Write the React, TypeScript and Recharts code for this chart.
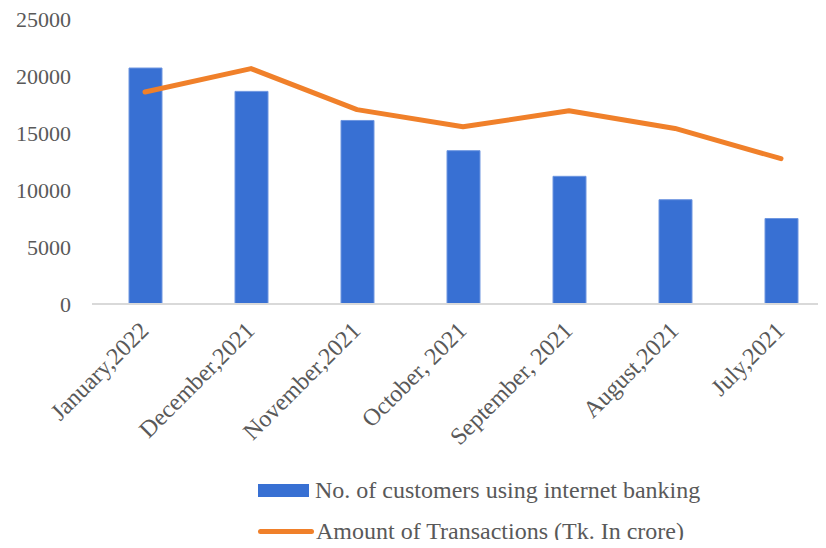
import { ComposedChart, Bar, Line, XAxis, YAxis, Legend } from "recharts";

const months = [
  "January,2022",
  "December,2021",
  "November,2021",
  "October, 2021",
  "September, 2021",
  "August,2021",
  "July,2021",
];
const customers = [20700, 18650, 16100, 13450, 11200, 9150, 7500];
const transactions = [18600, 20650, 17050, 15550, 16950, 15400, 12750];
const yTicks = [0, 5000, 10000, 15000, 20000, 25000];

const data = months.map((name, i) => ({
  name,
  customers: customers[i],
  transactions: transactions[i],
}));

const FONT = '"Liberation Serif", "Times New Roman", serif';
const TEXT = "#595959";
const BLUE = "#3870D3";
const ORANGE = "#F0802A";

function MonthTick({ x, y, payload }: any) {
  const ax = x + 5;
  const ay = y + 20;
  return (
    <text
      x={ax}
      y={ay}
      transform={`rotate(-45, ${ax}, ${ay})`}
      textAnchor="end"
      fill={TEXT}
      fontFamily={FONT}
      fontSize={24}
    >
      {payload.value}
    </text>
  );
}

function LegendBox() {
  const row = { display: "flex", alignItems: "center", height: 41, whiteSpace: "nowrap" as const };
  const label = { fontFamily: FONT, fontSize: 24, color: TEXT, marginLeft: 6 };
  return (
    <div>
      <div style={row}>
        <span style={{ width: 51, height: 13, background: BLUE, display: "inline-block" }} />
        <span style={label}>No. of customers using internet banking</span>
      </div>
      <div style={row}>
        <span style={{ width: 56, height: 5, borderRadius: 3, background: ORANGE, display: "inline-block" }} />
        <span style={{ ...label, marginLeft: 2 }}>Amount of Transactions (Tk. In crore)</span>
      </div>
    </div>
  );
}

export default function App() {
  return (
    <div style={{ width: 826, height: 548, margin: -8, overflow: "hidden", position: "relative", background: "#fff" }}>
      <ComposedChart
        width={842}
        height={548}
        data={data}
        margin={{ top: 19, right: 8, left: 0, bottom: 0 }}
        barCategoryGap={0}
      >
        <XAxis
          dataKey="name"
          height={244}
          interval={0}
          tickLine={false}
          axisLine={{ stroke: "#D9D9D9", strokeWidth: 2 }}
          tick={<MonthTick />}
        />
        <YAxis
          width={92}
          domain={[0, 25000]}
          ticks={yTicks}
          axisLine={false}
          tickLine={false}
          tickSize={0}
          tickMargin={21}
          tick={{ fill: TEXT, fontFamily: FONT, fontSize: 22 }}
        />
        <Legend
          layout="horizontal"
          verticalAlign="middle"
          align="center"
          wrapperStyle={{ top: 470, left: 258, width: "auto" }}
          content={() => <LegendBox />}
        />
        <Bar
          dataKey="customers"
          name="No. of customers using internet banking"
          fill={BLUE}
          stroke="#6E96E0"
          strokeWidth={1}
          barSize={33}
          isAnimationActive={false}
        />
        <Line
          dataKey="transactions"
          name="Amount of Transactions (Tk. In crore)"
          stroke={ORANGE}
          strokeWidth={5}
          strokeLinecap="round"
          strokeLinejoin="round"
          dot={false}
          activeDot={false}
          isAnimationActive={false}
        />
      </ComposedChart>
    </div>
  );
}
